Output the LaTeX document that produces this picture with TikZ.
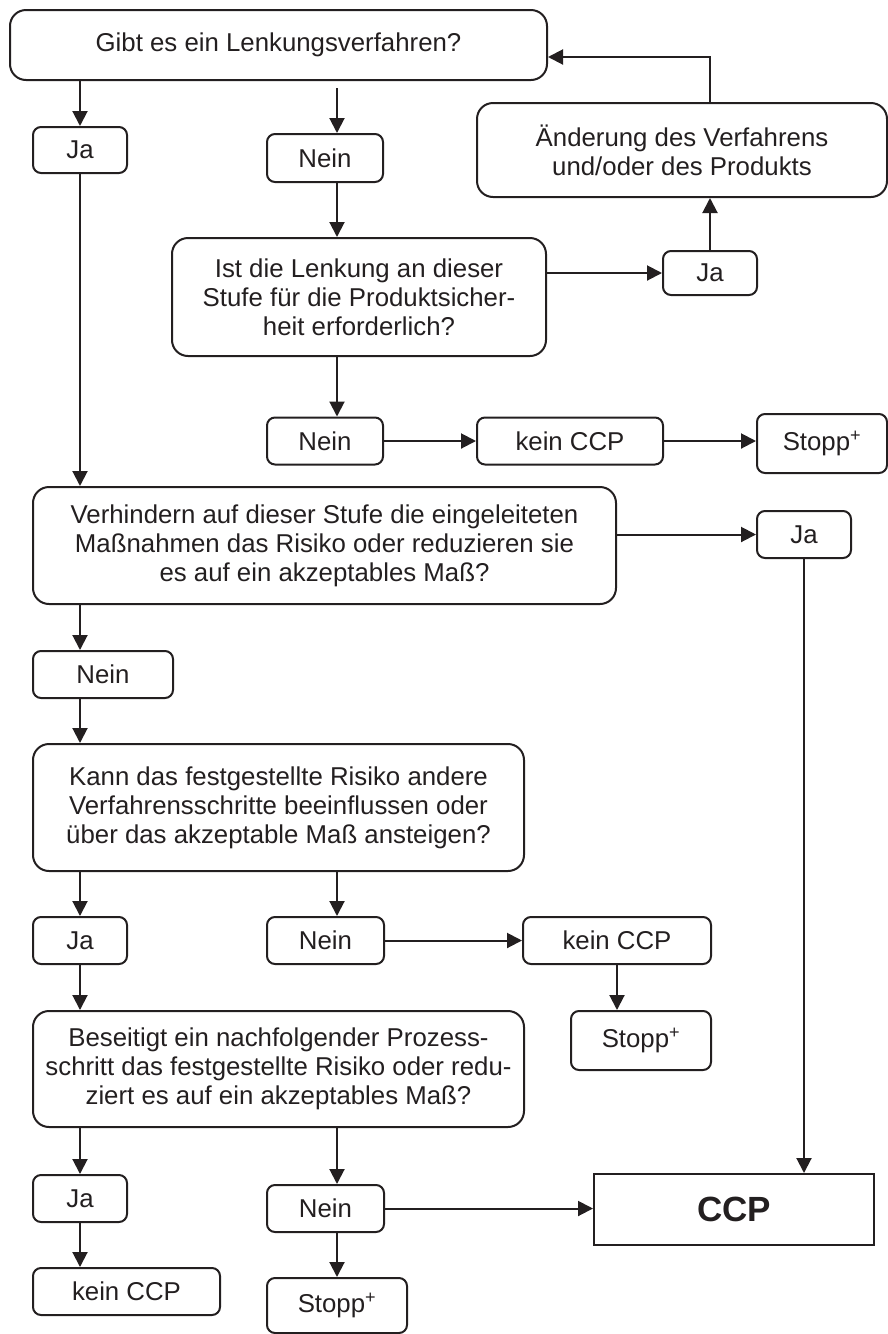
\documentclass[tikz,border=0pt]{standalone}
\usepackage{fontspec}
\setmainfont{Liberation Sans}
\usetikzlibrary{arrows.meta,calc}
\definecolor{ink}{HTML}{231F20}

\begin{document}
\begin{tikzpicture}[x=1pt,y=-1pt,>={Triangle[length=15pt,width=15pt]},
  every node/.style={font=\fontsize{25.8}{29}\selectfont,text=ink},
  box/.style={draw=ink,line width=2pt,rounded corners=8pt,align=center,inner sep=3pt},
  bigbox/.style={box,rounded corners=16pt},
  arr/.style={->,draw=ink,line width=2pt}]
\useasboundingbox (0,0) rectangle (888,1334);
\coordinate (lcol) at (80,0);
\coordinate (mcol) at (337,0);

\node[bigbox,minimum width=537,minimum height=70] (q1) at (278.5,45) {Gibt es ein Lenkungsverfahren?};
\node[box,minimum width=94,minimum height=46] (ja1) at (80,150) {Ja};
\node[box,minimum width=116,minimum height=48] (nein1) at (325,158) {Nein};
\node[bigbox,minimum width=410,minimum height=94] (aend) at (682,150) {Änderung des Verfahrens\\und/oder des Produkts};
\node[box,minimum width=94,minimum height=44] (ja2) at (710,273) {Ja};
\node[bigbox,minimum width=374,minimum height=118] (q2) at (359,297) {Ist die Lenkung an dieser\\Stufe für die Produktsicher-\\heit erforderlich?};
\node[box,minimum width=116,minimum height=47] (nein2) at (325,441) {Nein};
\node[box,minimum width=186,minimum height=47] (kein1) at (570,441) {kein CCP};
\node[box,minimum width=130,minimum height=59] (stopp1) at (822,443.5) {Stopp\textsuperscript{+}};
\node[bigbox,minimum width=583,minimum height=117] (q3) at (324.5,545.5) {Verhindern auf dieser Stufe die eingeleiteten\\Maßnahmen das Risiko oder reduzieren sie\\es auf ein akzeptables Maß?};
\node[box,minimum width=94,minimum height=47] (ja3) at (804,534.5) {Ja};
\node[box,minimum width=140,minimum height=47] (nein3) at (103,674.5) {Nein};
\node[bigbox,minimum width=491,minimum height=127] (q4) at (278.5,807.5) {Kann das festgestellte Risiko andere\\Verfahrensschritte beeinflussen oder\\über das akzeptable Maß ansteigen?};
\node[box,minimum width=94,minimum height=47] (ja4) at (80,940.5) {Ja};
\node[box,minimum width=117,minimum height=47] (nein4) at (325.5,940.5) {Nein};
\node[box,minimum width=188,minimum height=47] (kein2) at (617,940.5) {kein CCP};
\node[box,minimum width=140,minimum height=59] (stopp2) at (641,1040.5) {Stopp\textsuperscript{+}};
\node[bigbox,minimum width=491,minimum height=116] (q5) at (278.5,1069) {Beseitigt ein nachfolgender Prozess-\\schritt das festgestellte Risiko oder redu-\\ziert es auf ein akzeptables Maß?};
\node[box,minimum width=94,minimum height=47] (ja5) at (80,1198.5) {Ja};
\node[box,minimum width=187,minimum height=47] (kein3) at (126.5,1291.5) {kein CCP};
\node[box,minimum width=117,minimum height=47] (nein5) at (325.5,1208.5) {Nein};
\node[box,minimum width=140,minimum height=55] (stopp3) at (337,1305.5) {Stopp\textsuperscript{+}};
\node[draw=ink,line width=2pt,minimum width=280,minimum height=71,font=\fontsize{35}{40}\selectfont\bfseries] (ccp) at (734,1209.5) {CCP};

\draw[arr] (q1.south -| lcol) -- (ja1.north);
\draw[arr,shorten <=7pt] (q1.south -| mcol) -- (nein1.north -| mcol);
\draw[arr] (nein1.south -| mcol) -- (q2.north -| mcol);
\draw[arr] (q2.east |- ja2) -- (ja2.west);
\draw[arr] (ja2.north) -- (aend.south -| ja2);
\draw[arr] (aend.north -| ja2) |- ($(q1.east)+(0,12)$);
\draw[arr] (q2.south -| mcol) -- (nein2.north -| mcol);
\draw[arr] (nein2.east) -- (nein2.east -| kein1.west);
\draw[arr] (kein1.east) -- (kein1.east -| stopp1.west);
\draw[arr] (ja1.south) -- (q3.north -| ja1);
\draw[arr] (q3.east |- ja3) -- (ja3.west);
\draw[arr] (ja3.south) -- (ccp.north -| ja3);
\draw[arr] (q3.south -| lcol) -- (nein3.north -| lcol);
\draw[arr] (nein3.south -| lcol) -- (q4.north -| lcol);
\draw[arr] (q4.south -| lcol) -- (ja4.north);
\draw[arr] (q4.south -| mcol) -- (nein4.north -| mcol);
\draw[arr] (nein4.east) -- (nein4.east -| kein2.west);
\draw[arr] (kein2.south) -- (stopp2.north -| kein2);
\draw[arr] (ja4.south) -- (q5.north -| ja4);
\draw[arr] (q5.south -| lcol) -- (ja5.north);
\draw[arr] (q5.south -| mcol) -- (nein5.north -| mcol);
\draw[arr] (ja5.south) -- (kein3.north -| ja5);
\draw[arr] (nein5.east) -- (nein5.east -| ccp.west);
\draw[arr] (nein5.south -| mcol) -- (stopp3.north -| mcol);
\end{tikzpicture}
\end{document}
